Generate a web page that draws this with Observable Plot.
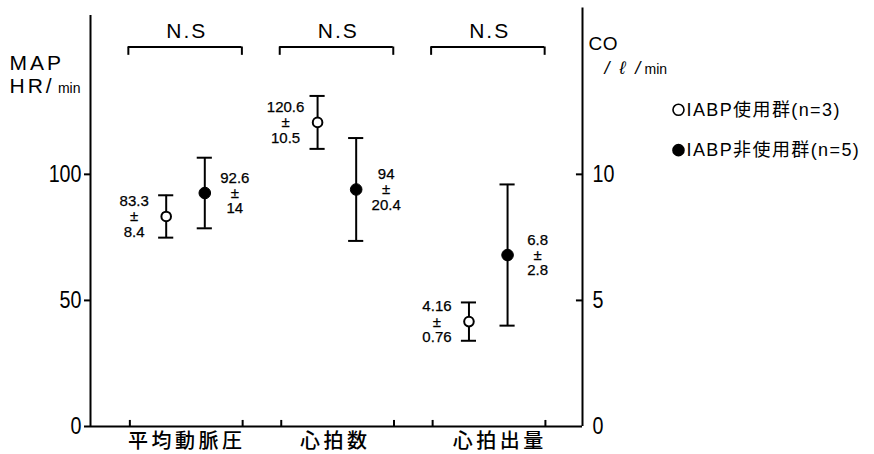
<!DOCTYPE html>
<html><head><meta charset="utf-8">
<script src="https://cdn.jsdelivr.net/npm/d3@7"></script>
<script src="https://cdn.jsdelivr.net/npm/@observablehq/plot@0.6"></script>
<style>
body{margin:0;background:#fff}
#chart svg{overflow:visible}
</style></head><body><div id="chart"></div>
<script>
const categories = ["平均動脈圧", "心拍数", "心拍出量"];
const groupNames = ["IABP使用群(n=3)", "IABP非使用群(n=5)"];
const usedMean = [83.3, 120.6, 4.16];
const usedSD = [8.4, 10.5, 0.76];
const nonMean = [92.6, 94, 6.8];
const nonSD = [14, 20.4, 2.8];
const axisFactor = [1, 1, 10]; // 心拍出量 is read on the right (CO) axis
const leftTicks = [0, 50, 100];
const rightTicks = [0, 5, 10];
const sigLabels = ["N.S", "N.S", "N.S"];

const xMin = 0.37, xMax = 3.62, yMax = 163;
const latinFont = "'Liberation Sans','Noto Sans CJK JP',sans-serif";
const cjkFont = "'Noto Sans CJK JP',sans-serif";

function rowsFor(means, sds, off, kind) {
  return categories.map((c, i) => {
    const f = axisFactor[i];
    return {
      cat: c, kind,
      x: i + 1 + off,
      mean: means[i] * f,
      lo: (means[i] - sds[i]) * f,
      hi: (means[i] + sds[i]) * f,
      label: `${means[i]}\n±\n${sds[i]}`
    };
  });
}
const used = rowsFor(usedMean, usedSD, -0.13, "used");
const non = rowsFor(nonMean, nonSD, 0.125, "non");
const all = used.concat(non);

const cats = categories.map((c, i) => ({c, x: i + 1, sig: sigLabels[i]}));
const bottomTicks = cats.flatMap(d => [d.x - 0.37, d.x + 0.375]);
const capW = 0.05;
const catShift = [-1, -4, 9];

const legendRows = groupNames.map((g, i) => ({text: g, filled: i === 1, y: i === 0 ? 125.6 : 109.6}));

const plot = Plot.plot({
  width: 874, height: 454,
  marginLeft: 90, marginRight: 292, marginTop: 15, marginBottom: 28,
  x: {domain: [xMin, xMax], axis: null},
  y: {domain: [0, yMax], axis: null},
  style: {background: "#fff", color: "#000"},
  marks: [
    // frame lines
    Plot.ruleY([0], {x1: xMin, x2: xMax, strokeWidth: 2}),
    Plot.ruleX([xMin], {y1: 0, y2: yMax, strokeWidth: 2}),
    Plot.ruleX([xMax], {y1: 0, y2: 166, strokeWidth: 2}),
    // left axis
    Plot.axisY({anchor: "left", ticks: leftTicks, tickSize: 6, tickPadding: 3, fontSize: 24, fontFamily: latinFont, label: null, strokeWidth: 2}),
    // right axis (CO)
    Plot.axisY({anchor: "right", ticks: rightTicks.map(v => v * 10), tickFormat: d => d / 10, tickSize: 0, tickPadding: 10, fontSize: 24, fontFamily: latinFont, label: null, textAnchor: "start"}),
    Plot.ruleY(rightTicks.filter(v => v > 0).map(v => v * 10), {x1: xMax - 0.04, x2: xMax, strokeWidth: 2}),
    // bottom inward ticks
    Plot.ruleX(bottomTicks, {y1: 0, y2: 2.4, strokeWidth: 2}),
    // category labels
    ...cats.map((d, i) => Plot.text([d], {x: "x", y: 0, text: "c", dy: 15, dx: catShift[i] + 2, fontSize: 20, fontFamily: cjkFont, fontWeight: 500})),
    // significance brackets
    Plot.ruleY(cats, {y: 150.5, x1: d => d.x - 0.38, x2: d => d.x + 0.37, strokeWidth: 2}),
    Plot.ruleX(cats, {x: d => d.x - 0.38, y1: 147.2, y2: 150.5, strokeWidth: 2}),
    Plot.ruleX(cats, {x: d => d.x + 0.37, y1: 147.2, y2: 150.5, strokeWidth: 2}),
    Plot.text(cats, {x: "x", y: 156.7, text: "sig", dx: 1, fontSize: 21, fontFamily: latinFont}),
    // error bars
    Plot.ruleX(all, {x: "x", y1: "lo", y2: "hi", strokeWidth: 2}),
    Plot.ruleY(all, {y: "lo", x1: d => d.x - capW, x2: d => d.x + capW, strokeWidth: 2}),
    Plot.ruleY(all, {y: "hi", x1: d => d.x - capW, x2: d => d.x + capW, strokeWidth: 2}),
    // points
    Plot.dot(used, {x: "x", y: "mean", r: 4.8, fill: "#fff", stroke: "#000", strokeWidth: 2}),
    Plot.dot(non, {x: "x", y: "mean", r: 5.8, fill: "#000", stroke: "#000", strokeWidth: 1}),
    // value annotations
    Plot.text(used, {x: "x", y: "mean", text: "label", dx: -32, fontSize: 15, lineHeight: 1.03, fill: "#000", stroke: "#000", strokeWidth: 0.25, fontFamily: latinFont, ariaLabel: "values"}),
    Plot.text(non, {x: "x", y: "mean", text: "label", dx: 30, fontSize: 15, lineHeight: 1.03, fill: "#000", stroke: "#000", strokeWidth: 0.25, fontFamily: latinFont, ariaLabel: "values"}),
    // axis titles
    Plot.text(["MAP"], {x: -0.165, y: 144, text: d => d, textAnchor: "start", fontSize: 21, fontFamily: latinFont}),
    Plot.text(["HR/"], {x: -0.165, y: 134.9, text: d => d, textAnchor: "start", fontSize: 21, fontFamily: latinFont}),
    Plot.text(["min"], {x: 0.155, y: 133.9, text: d => d, textAnchor: "start", fontSize: 14, fontFamily: latinFont}),
    Plot.text(["CO"], {x: 3.66, y: 151.9, text: d => d, textAnchor: "start", fontSize: 19, fontFamily: latinFont}),
    Plot.text(["/  ℓ  /"], {x: 3.765, y: 142, text: d => d, textAnchor: "start", fontSize: 18, fontStyle: "italic", fontFamily: latinFont}),
    Plot.text(["min"], {x: 4.03, y: 141.6, text: d => d, textAnchor: "start", fontSize: 14, fontFamily: latinFont}),
    // legend
    Plot.dot(legendRows, {x: 4.254, y: "y", r: 5.5, stroke: "#000", strokeWidth: 1.6, fill: d => d.filled ? "#000" : "#fff"}),
    Plot.text(legendRows, {x: 4.307, y: "y", text: "text", textAnchor: "start", fontSize: 18, fontFamily: latinFont})
  ]
});
document.getElementById("chart").appendChild(plot);

// letter spacing by text content
const spacing = new Map([
  ...categories.map(c => [c, "3.5px"]),
  ...sigLabels.map(s => [s, "2px"]),
  ...groupNames.map(g => [g, "1.4px"]),
  ["MAP", "3px"], ["HR/", "3px"], ["CO", "0.5px"]
]);
plot.querySelectorAll("text").forEach(t => {
  const s = spacing.get(t.textContent);
  if (s) t.style.letterSpacing = s;
});
plot.querySelectorAll('g[aria-label="values"] text').forEach(t => t.style.letterSpacing = "1.5px");

// condensed look of the original's numerals
function condense(sel, k) {
  plot.querySelectorAll(sel).forEach(t => {
    const L = t.getComputedTextLength();
    if (L > 0) {
      t.setAttribute("textLength", L * k);
      t.setAttribute("lengthAdjust", "spacingAndGlyphs");
    }
  });
}
condense('g[aria-label="y-axis tick label"] text', 0.82);
condense('g[aria-label="values"] tspan', 0.85);
</script>
</body></html>
